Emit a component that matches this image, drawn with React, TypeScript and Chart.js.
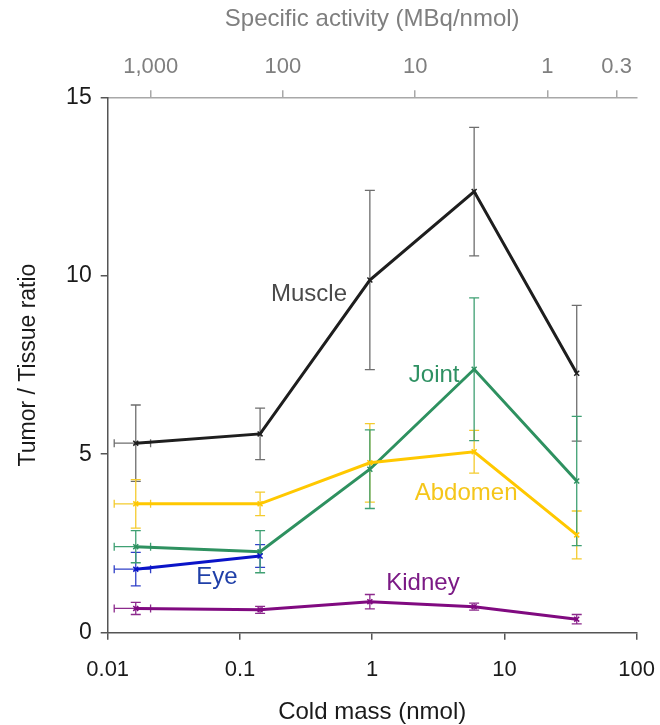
import React, { useEffect, useRef } from "react";
import { Chart, registerables } from "chart.js";

Chart.register(...registerables);

// ---- data ----
const coldMass = [0.0163, 0.142, 0.96, 5.9, 35.2];
const firstMassLow = 0.0112;
const firstMassHigh = 0.0211;

const muscle = [5.31, 5.57, 9.88, 12.36, 7.27];
const muscleErr = [1.07, 0.72, 2.51, 1.8, 1.9];
const abdomen = [3.61, 3.61, 4.76, 5.07, 2.74];
const abdomenErr = [0.68, 0.33, 1.1, 0.6, 0.67];
const joint = [2.41, 2.27, 4.58, 7.38, 4.25];
const jointErr = [0.45, 0.59, 1.1, 2.0, 1.81];
const eye = [1.78, 2.15];
const eyeErr = [0.47, 0.32];
const kidney = [0.68, 0.64, 0.87, 0.73, 0.38];
const kidneyErr = [0.17, 0.1, 0.2, 0.1, 0.13];

const xTicks = [0.01, 0.1, 1, 10, 100];
const xTickLabels = ["0.01", "0.1", "1", "10", "100"];
const yTicks = [0, 5, 10, 15];
const topTicks = [1000, 100, 10, 1, 0.3];
const topTickLabels = ["1,000", "100", "10", "1", "0.3"];
const activityTimesMass = 21.14; // MBq: specific activity = this / cold mass

const xMin = 0.01;
const xMax = 100;

type Series = {
  name: string;
  values: number[];
  errs: number[];
  line: string;
  err: string;
  text: string;
  labelAt: [number, number];
};

const series: Series[] = [
  { name: "Muscle", values: muscle, errs: muscleErr, line: "#1e1e1e", err: "#6e6e6e", text: "#4a4a4a", labelAt: [0.333, 9.49] },
  { name: "Abdomen", values: abdomen, errs: abdomenErr, line: "#ffc800", err: "#f4cb2e", text: "#f5c61a", labelAt: [5.13, 3.91] },
  { name: "Eye", values: eye, errs: eyeErr, line: "#0a14c8", err: "#3040c8", text: "#1f3fa8", labelAt: [0.067, 1.56] },
  { name: "Joint", values: joint, errs: jointErr, line: "#2e9160", err: "#3fa073", text: "#2f9163", labelAt: [2.94, 7.22] },
  { name: "Kidney", values: kidney, errs: kidneyErr, line: "#800a80", err: "#8c2a8c", text: "#7b1a85", labelAt: [2.42, 1.39] },
];

const FONT = "'Liberation Sans', Arial, sans-serif";

const errorBarPlugin = {
  id: "errorBars",
  beforeDatasetsDraw(chart: any) {
    const ctx = chart.ctx;
    const xs = chart.scales.x;
    const ys = chart.scales.y;
    ctx.save();
    series.forEach((s) => {
      ctx.strokeStyle = s.err;
      ctx.lineWidth = 1.3;
      s.values.forEach((v, i) => {
        const px = xs.getPixelForValue(coldMass[i]);
        const top = ys.getPixelForValue(v + s.errs[i]);
        const bot = ys.getPixelForValue(v - s.errs[i]);
        const py = ys.getPixelForValue(v);
        ctx.beginPath();
        ctx.moveTo(px, top);
        ctx.lineTo(px, bot);
        ctx.moveTo(px - 5, top);
        ctx.lineTo(px + 5, top);
        ctx.moveTo(px - 5, bot);
        ctx.lineTo(px + 5, bot);
        if (i === 0) {
          const l = xs.getPixelForValue(firstMassLow);
          const r = xs.getPixelForValue(firstMassHigh);
          ctx.moveTo(l, py);
          ctx.lineTo(r, py);
          ctx.moveTo(l, py - 4);
          ctx.lineTo(l, py + 4);
          ctx.moveTo(r, py - 4);
          ctx.lineTo(r, py + 4);
        }
        ctx.stroke();
      });
    });
    ctx.restore();
  },
  afterDatasetsDraw(chart: any) {
    const ctx = chart.ctx;
    const xs = chart.scales.x;
    const ys = chart.scales.y;
    ctx.save();
    ctx.font = `24px ${FONT}`;
    ctx.textAlign = "center";
    ctx.textBaseline = "middle";
    series.forEach((s) => {
      ctx.fillStyle = s.text;
      ctx.fillText(s.name, xs.getPixelForValue(s.labelAt[0]), ys.getPixelForValue(s.labelAt[1]));
    });
    ctx.restore();
  },
};

export default function App() {
  const ref = useRef<HTMLCanvasElement | null>(null);

  useEffect(() => {
    if (!ref.current) return;
    const chart = new Chart(ref.current, {
      type: "line",
      data: {
        datasets: series.map((s) => ({
          label: s.name,
          data: s.values.map((v, i) => ({ x: coldMass[i], y: v })),
          borderColor: s.line,
          backgroundColor: s.line,
          borderWidth: 3,
          pointStyle: "crossRot",
          pointRadius: 3.5,
          pointBorderWidth: 1.5,
          tension: 0,
          fill: false,
        })),
      },
      options: {
        animation: false,
        responsive: false,
        devicePixelRatio: 1,
        layout: { padding: { left: 0, right: 23.3, top: 0, bottom: 0 } },
        plugins: { legend: { display: false }, tooltip: { enabled: false } },
        scales: {
          x: {
            type: "logarithmic",
            position: "bottom",
            min: xMin,
            max: xMax,
            afterFit(scale: any) {
              scale.height = 92.3;
              scale.paddingLeft = 0;
              scale.paddingRight = 0;
            },
            afterBuildTicks(scale: any) {
              scale.ticks = xTicks.map((v) => ({ value: v }));
            },
            grid: { drawOnChartArea: false, tickLength: 7, color: "#555", lineWidth: 1.5 },
            border: { color: "#555", width: 1.5 },
            ticks: {
              autoSkip: false,
              maxRotation: 0,
              padding: 17,
              color: "#1a1a1a",
              font: { family: FONT, size: 22 },
              callback: (v: any) => {
                const i = xTicks.findIndex((t) => Math.abs(t - Number(v)) / t < 1e-6);
                return i >= 0 ? xTickLabels[i] : "";
              },
            },
            title: {
              display: true,
              text: "Cold mass (nmol)",
              color: "#1a1a1a",
              font: { family: FONT, size: 24, lineHeight: 1 },
              padding: { top: 0, bottom: 1 },
            },
          },
          x2: {
            type: "logarithmic",
            position: "top",
            reverse: true,
            min: activityTimesMass / xMax,
            max: activityTimesMass / xMin,
            afterFit(scale: any) {
              scale.height = 97.3;
              scale.paddingLeft = 0;
              scale.paddingRight = 0;
            },
            afterBuildTicks(scale: any) {
              scale.ticks = topTicks.map((v) => ({ value: v }));
            },
            grid: { drawOnChartArea: false, tickLength: 7, color: "#a8a8a8", lineWidth: 1.5 },
            border: { color: "#a8a8a8", width: 1.5 },
            ticks: {
              autoSkip: false,
              maxRotation: 0,
              padding: 10,
              color: "#7f7f7f",
              font: { family: FONT, size: 22 },
              callback: (v: any) => {
                const i = topTicks.findIndex((t) => Math.abs(t - Number(v)) / t < 1e-6);
                return i >= 0 ? topTickLabels[i] : "";
              },
            },
            title: {
              display: true,
              text: "Specific activity (MBq/nmol)",
              color: "#7f7f7f",
              font: { family: FONT, size: 24, lineHeight: 1.2 },
              padding: { top: 5, bottom: 0 },
            },
          },
          y: {
            type: "linear",
            position: "left",
            min: 0,
            max: 15,
            afterFit(scale: any) {
              scale.width = 107.7;
            },
            afterBuildTicks(scale: any) {
              scale.ticks = yTicks.map((v) => ({ value: v }));
            },
            grid: { drawOnChartArea: false, tickLength: 7, color: "#555", lineWidth: 1.5 },
            border: { color: "#555", width: 1.5 },
            ticks: {
              padding: 9,
              color: "#1a1a1a",
              font: { family: FONT, size: 23 },
            },
            title: {
              display: true,
              text: "Tumor / Tissue ratio",
              color: "#1a1a1a",
              font: { family: FONT, size: 23, lineHeight: 1.2 },
              padding: { top: 15, bottom: 0 },
            },
          },
        },
      },
      plugins: [errorBarPlugin],
    } as any);
    return () => chart.destroy();
  }, []);

  return (
    <div style={{ position: "absolute", left: 0, top: 0, width: 660, height: 725, background: "#fff" }}>
      <canvas ref={ref} width={660} height={725} style={{ width: 660, height: 725, display: "block" }} />
    </div>
  );
}
